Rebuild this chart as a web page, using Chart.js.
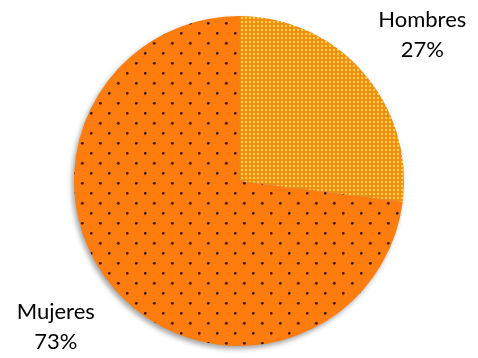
<!DOCTYPE html>
<html>
<head>
<meta charset="utf-8">
<script src="https://cdn.jsdelivr.net/npm/chart.js@4"></script>
<style>
  html, body { margin: 0; padding: 0; background: #fff; }
  #wrap { width: 478px; height: 358px; }
</style>
</head>
<body>
<div id="wrap"><canvas id="myChart" width="478" height="358"></canvas></div>
<script>
const categories = ["Hombres", "Mujeres"];
const percentages = [27, 73];
const percentLabels = ["27%", "73%"];

const canvas = document.getElementById("myChart");

// yellow checker on orange for Hombres
function checkerPattern() {
    const tile = document.createElement("canvas");
    tile.width = 4;
    tile.height = 4;
    const c = tile.getContext("2d");
    c.fillStyle = "#F28E16";
    c.fillRect(0, 0, 4, 4);
    c.fillStyle = "#FFD236";
    c.fillRect(1, 1, 2, 2);
    c.fillStyle = "#FFEE70";
    c.fillRect(1.5, 1.5, 1, 1);
    return canvas.getContext("2d").createPattern(tile, "repeat");
}

// dark dots on orange for Mujeres
function dotPattern() {
    const tile = document.createElement("canvas");
    tile.width = 18;
    tile.height = 20;
    const c = tile.getContext("2d");
    c.fillStyle = "#FF7D0E";
    c.fillRect(0, 0, 18, 20);
    c.fillStyle = "#3F1408";
    [[1.3, 13.3], [10.3, 3.3], [19.3, 13.3]].forEach(p => {
        c.beginPath();
        c.arc(p[0], p[1], 1.4, 0, Math.PI * 2);
        c.fill();
    });
    return canvas.getContext("2d").createPattern(tile, "repeat");
}

const shadowPlugin = {
    id: "shadow",
    beforeDatasetsDraw(chart) {
        const ctx = chart.ctx;
        ctx.save();
        ctx.shadowColor = "rgba(0,0,0,0.35)";
        ctx.shadowBlur = 5;
        ctx.shadowOffsetX = -2;
        ctx.shadowOffsetY = 3;
    },
    afterDatasetsDraw(chart) {
        chart.ctx.restore();
    }
};

const labelPlugin = {
    id: "outerLabels",
    afterDraw(chart) {
        const ctx = chart.ctx;
        const meta = chart.getDatasetMeta(0);
        ctx.save();
        ctx.font = "22px Lato";
        ctx.fillStyle = "#000";
        ctx.textAlign = "center";
        ctx.textBaseline = "middle";
        meta.data.forEach((arc, i) => {
            const mid = (arc.startAngle + arc.endAngle) / 2 + 0.05;
            const r = arc.outerRadius * 1.42;
            const x = arc.x + Math.cos(mid) * r;
            const y = arc.y + Math.sin(mid) * r;
            ctx.fillText(categories[i], x, y - 15);
            ctx.fillText(percentLabels[i], x, y + 15);
        });
        ctx.restore();
    }
};

new Chart(canvas.getContext("2d"), {
    type: "pie",
    data: {
        labels: categories,
        datasets: [{
            data: percentages,
            backgroundColor: [checkerPattern(), dotPattern()],
            borderWidth: 0
        }]
    },
    options: {
        responsive: false,
        animation: false,
        layout: { padding: { top: 16, bottom: 12, left: 0, right: 0 } },
        plugins: {
            legend: { display: false },
            tooltip: { enabled: false }
        }
    },
    plugins: [shadowPlugin, labelPlugin]
});
</script>
</body>
</html>
